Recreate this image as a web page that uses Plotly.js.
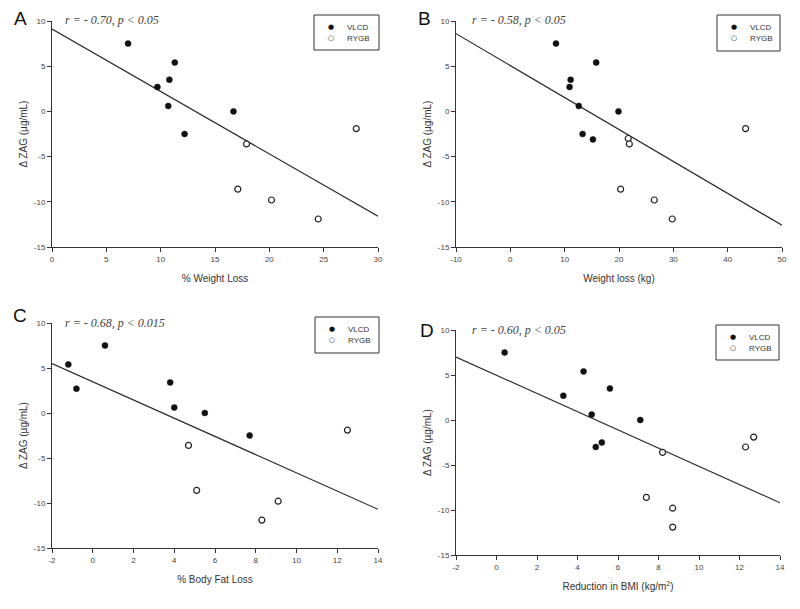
<!DOCTYPE html>
<html><head><meta charset="utf-8">
<script src="https://cdn.plot.ly/plotly-3.0.1.min.js"></script>
<style>body{margin:0;background:#fff}#chart{width:800px;height:609px}</style>
</head><body><div id="chart"></div>
<script>
// ---- data ----
const groupNames = ['VLCD', 'RYGB'];
const groupSymbols = ['\u25CF', '\u25CB'];
const panelLetters = ['A', 'B', 'C', 'D'];
const panelStats = ['r = - 0.70, p < 0.05', 'r = - 0.58, p < 0.05', 'r = - 0.68, p < 0.015', 'r = - 0.60, p < 0.05'];
const xTitles = ['% Weight Loss', 'Weight loss (kg)', '% Body Fat Loss', 'Reduction in BMI (kg/m<sup>2</sup>)'];
const yTitle = '\u0394 ZAG (\u00b5g/mL)';

// Panel A: % weight loss
const aVlcdX = [7.0, 9.7, 10.8, 11.3, 10.7, 12.2, 16.7];
const aVlcdY = [7.5, 2.7, 3.5, 5.4, 0.6, -2.5, 0.0];
const aRygbX = [17.9, 17.1, 20.2, 24.5, 28.0];
const aRygbY = [-3.6, -8.6, -9.8, -11.9, -1.9];
const aFitX = [0, 30];
const aFitY = [9.1, -11.6];

// Panel B: weight loss (kg)
const bVlcdX = [8.4, 10.9, 11.1, 15.8, 12.6, 13.3, 15.2, 19.9];
const bVlcdY = [7.5, 2.7, 3.5, 5.4, 0.6, -2.5, -3.1, 0.0];
const bRygbX = [21.7, 21.9, 20.3, 26.5, 29.8, 43.3];
const bRygbY = [-3.0, -3.6, -8.6, -9.8, -11.9, -1.9];
const bFitX = [-10, 50];
const bFitY = [8.6, -12.6];

// Panel C: % body fat loss
const cVlcdX = [-1.2, -0.8, 0.6, 3.8, 4.0, 5.5, 7.7];
const cVlcdY = [5.4, 2.7, 7.5, 3.4, 0.6, 0.0, -2.5];
const cRygbX = [4.7, 5.1, 9.1, 8.3, 12.5];
const cRygbY = [-3.6, -8.6, -9.8, -11.9, -1.9];
const cFitX = [-2, 14];
const cFitY = [5.5, -10.7];

// Panel D: reduction in BMI
const dVlcdX = [0.4, 3.3, 4.3, 4.7, 5.6, 4.9, 5.2, 7.1];
const dVlcdY = [7.5, 2.7, 5.4, 0.6, 3.5, -3.0, -2.5, 0.0];
const dRygbX = [8.2, 7.4, 8.7, 8.7, 12.3, 12.7];
const dRygbY = [-3.6, -8.6, -9.8, -11.9, -3.0, -1.9];
const dFitX = [-2, 14];
const dFitY = [7.0, -9.2];

// tick labels
const yTickVals = [-15, -10, -5, 0, 5, 10];
const yTickText = ['-15', '-10', '-5', '0', '5', '10'];
const aTickVals = [0, 5, 10, 15, 20, 25, 30];
const aTickText = ['0', '5', '10', '15', '20', '25', '30'];
const bTickVals = [-10, 0, 10, 20, 30, 40, 50];
const bTickText = ['-10', '0', '10', '20', '30', '40', '50'];
const cdTickVals = [-2, 0, 2, 4, 6, 8, 10, 12, 14];
const cdTickText = ['-2', '0', '2', '4', '6', '8', '10', '12', '14'];

// ---- build ----
const panels = [
  {vx: aVlcdX, vy: aVlcdY, rx: aRygbX, ry: aRygbY, fx: aFitX, fy: aFitY, tv: aTickVals, tt: aTickText, range: [0, 30]},
  {vx: bVlcdX, vy: bVlcdY, rx: bRygbX, ry: bRygbY, fx: bFitX, fy: bFitY, tv: bTickVals, tt: bTickText, range: [-10, 50]},
  {vx: cVlcdX, vy: cVlcdY, rx: cRygbX, ry: cRygbY, fx: cFitX, fy: cFitY, tv: cdTickVals, tt: cdTickText, range: [-2, 14]},
  {vx: dVlcdX, vy: dVlcdY, rx: dRygbX, ry: dRygbY, fx: dFitX, fy: dFitY, tv: cdTickVals, tt: cdTickText, range: [-2, 14]}
];

const W = 800, H = 609;
// pixel boxes of each plot area [left, right, top, bottom]
const boxes = [[52, 378, 21, 247], [456, 782, 21, 247], [52, 378, 323, 548], [456, 780, 330, 555]];
const legendBoxes = [[314, 15, 65, 35], [717, 15, 63, 36], [315, 317, 64, 36], [716, 325, 63, 35]];
const letterPos = [[20, 19], [424, 19], [20, 315], [427, 330]];
const statPos = [[63, 20], [470, 20], [63, 323], [470, 330]];

const traces = [];
const layout = {
  width: W, height: H,
  margin: {l: 0, r: 0, t: 0, b: 0},
  paper_bgcolor: '#fff', plot_bgcolor: '#fff',
  showlegend: false,
  font: {family: 'Arial, Liberation Sans, sans-serif', color: '#333'},
  annotations: [], shapes: []
};

const axFont = {family: 'Arial, Liberation Sans, sans-serif', size: 8, color: '#444'};
const px = v => v / W, py = v => 1 - v / H;

panels.forEach((p, i) => {
  const n = i === 0 ? '' : String(i + 1);
  const xa = 'x' + n, ya = 'y' + n;
  const [l, r, t, b] = boxes[i];

  traces.push({
    x: p.fx, y: p.fy, xaxis: xa, yaxis: ya, mode: 'lines',
    line: {color: '#2a2a2a', width: 1.2}, hoverinfo: 'skip'
  });
  traces.push({
    x: p.vx, y: p.vy, xaxis: xa, yaxis: ya, mode: 'markers', name: groupNames[0],
    marker: {symbol: 'circle', size: 6, color: '#111', line: {color: '#111', width: 0.5}}
  });
  traces.push({
    x: p.rx, y: p.ry, xaxis: xa, yaxis: ya, mode: 'markers', name: groupNames[1],
    marker: {symbol: 'circle', size: 6, color: '#fff', line: {color: '#222', width: 1.2}}
  });

  layout['xaxis' + n] = {
    domain: [l / W, r / W], anchor: ya, range: p.range, fixedrange: true,
    showline: true, linecolor: '#333', linewidth: 1, showgrid: false, zeroline: false,
    ticks: 'outside', ticklen: 4, tickwidth: 1, tickcolor: '#333',
    tickmode: 'array', tickvals: p.tv, ticktext: p.tt, tickfont: axFont,
    title: {text: xTitles[i], font: {family: 'Arial, Liberation Sans, sans-serif', size: 10, color: '#333'}, standoff: 12}
  };
  layout['yaxis' + n] = {
    domain: [1 - b / H, 1 - t / H], anchor: xa, range: [-15, 10], fixedrange: true,
    showline: true, linecolor: '#333', linewidth: 1, showgrid: false, zeroline: false,
    ticks: 'outside', ticklen: 4, tickwidth: 1, tickcolor: '#333',
    tickmode: 'array', tickvals: yTickVals, ticktext: yTickText, tickfont: axFont,
    title: {text: yTitle, font: {family: 'Arial, Liberation Sans, sans-serif', size: 10, color: '#333'}, standoff: 4}
  };

  // boxed legend
  const [lx, ly, lw, lh] = legendBoxes[i];
  layout.shapes.push({
    type: 'rect', xref: 'paper', yref: 'paper',
    x0: px(lx), x1: px(lx + lw), y0: py(ly), y1: py(ly + lh),
    line: {color: '#333', width: 1}, fillcolor: '#fff'
  });
  groupNames.forEach((g, k) => {
    const rowY = ly + 12 + k * 11;
    layout.annotations.push({
      xref: 'paper', yref: 'paper', x: px(lx + 17), y: py(rowY),
      xanchor: 'center', yanchor: 'middle', showarrow: false, text: groupSymbols[k],
      font: {family: 'DejaVu Sans, sans-serif', size: 7, color: '#111'}
    });
    layout.annotations.push({
      xref: 'paper', yref: 'paper', x: px(lx + 31), y: py(rowY),
      xanchor: 'left', yanchor: 'middle', showarrow: false, text: g,
      font: {family: 'Arial, Liberation Sans, sans-serif', size: 8, color: '#333'}
    });
  });

  layout.annotations.push({
    xref: 'paper', yref: 'paper', x: px(letterPos[i][0]), y: py(letterPos[i][1]),
    xanchor: 'center', yanchor: 'middle', showarrow: false, text: panelLetters[i],
    font: {family: 'Arial, Liberation Sans, sans-serif', size: 19, color: '#111'}
  });
  layout.annotations.push({
    xref: 'paper', yref: 'paper', x: px(statPos[i][0]), y: py(statPos[i][1]),
    xanchor: 'left', yanchor: 'middle', showarrow: false, text: '<i>' + panelStats[i] + '</i>',
    font: {family: 'Liberation Serif, Times New Roman, serif', size: 12, color: '#444'}
  });
});

Plotly.newPlot('chart', traces, layout, {staticPlot: true, displayModeBar: false});
</script>
</body></html>
